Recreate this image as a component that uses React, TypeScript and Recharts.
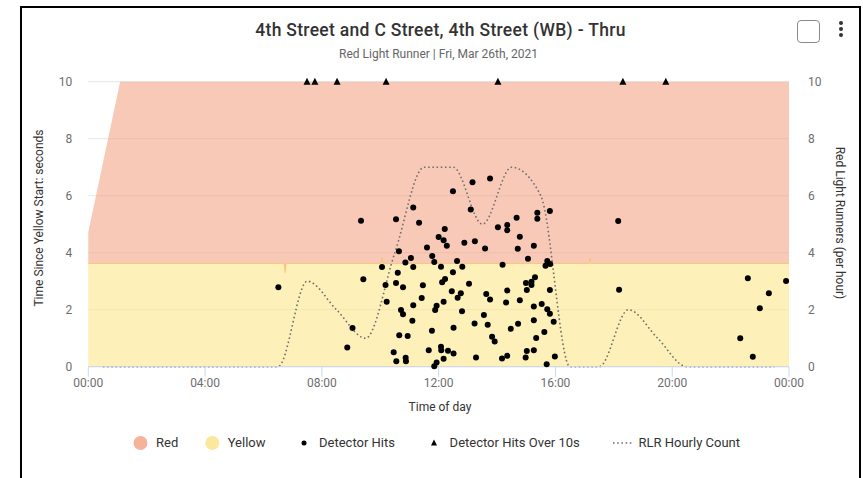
import {
    ComposedChart,
    Area,
    Line,
    Scatter,
    XAxis,
    YAxis,
    CartesianGrid,
} from "recharts";

// band of red / yellow interval (seconds since yellow start)
const bandHours = [0, 1.09, 6.7, 6.74, 6.78, 10.03, 10.05, 10.07, 17.16, 17.18, 17.2, 24];
const yellowTop = [3.62, 3.62, 3.62, 3.3, 3.62, 3.62, 3.82, 3.62, 3.62, 3.8, 3.62, 3.62];
const redTop = [4.73, 10, 10, 10, 10, 10, 10, 10, 10, 10, 10, 10];

// detector hits: [hour of day, seconds since yellow start]
const detectorHits = [
    [6.51, 2.79], [8.87, 0.67], [9.05, 1.36], [9.34, 5.12], [9.42, 3.07], [10.06, 3.5],
    [10.18, 2.87], [10.22, 2.28], [10.46, 0.51], [10.54, 5.17], [10.54, 2.94], [10.55, 0.19],
    [10.6, 3.3], [10.64, 4.05], [10.65, 1.1], [10.71, 1.99], [10.78, 2.79], [10.78, 1.84],
    [10.86, 3.66], [10.87, 0.31], [10.88, 0.19], [10.94, 1.08], [11.05, 3.81], [11.1, 1.61],
    [11.13, 5.59], [11.13, 3.5], [11.13, 2.16], [11.33, 5.05], [11.42, 2.41], [11.46, 2.86],
    [11.6, 4.18], [11.66, 0.58], [11.77, 1.26], [11.78, 3.88], [11.85, 3.67], [11.85, 0.02],
    [11.88, 1.99], [11.93, 2.14], [11.93, 0.15], [12.0, 4.55], [12.08, 3.51], [12.08, 0.7],
    [12.09, 0.58], [12.12, 2.96], [12.17, 4.44], [12.17, 2.28], [12.17, 0.28], [12.21, 4.83],
    [12.22, 3.08], [12.28, 4.24], [12.32, 0.56], [12.45, 2.65], [12.49, 6.16], [12.49, 3.31],
    [12.51, 1.37], [12.51, 0.46], [12.63, 3.71], [12.65, 2.42], [12.76, 2.58], [12.8, 1.95],
    [12.81, 3.51], [12.88, 4.35], [13.04, 2.91], [13.1, 5.52], [13.16, 6.47], [13.23, 1.52],
    [13.24, 4.4], [13.28, 0.32], [13.55, 1.81], [13.59, 4.15], [13.63, 2.55], [13.68, 1.47],
    [13.76, 6.6], [13.76, 2.36], [13.83, 1.05], [13.92, 0.88], [14.03, 4.89], [14.17, 0.29],
    [14.19, 3.58], [14.31, 2.25], [14.35, 4.97], [14.35, 4.79], [14.35, 2.67], [14.35, 0.38],
    [14.47, 1.33], [14.67, 5.23], [14.71, 4.14], [14.72, 1.51], [14.78, 4.56], [14.78, 2.33],
    [14.98, 0.32], [14.99, 2.94], [15.02, 2.69], [15.02, 0.55], [15.06, 3.79], [15.18, 2.98],
    [15.18, 2.87], [15.26, 4.24], [15.26, 2.11], [15.26, 1.63], [15.26, 0.58], [15.3, 3.14],
    [15.34, 1.01], [15.38, 5.4], [15.38, 5.19], [15.53, 2.2], [15.62, 1.22], [15.66, 3.54],
    [15.7, 0.09], [15.72, 3.71], [15.72, 2.02], [15.81, 5.46], [15.81, 2.69], [15.82, 3.6],
    [15.81, 1.86], [15.94, 1.58], [15.98, 0.36], [18.15, 5.11], [18.18, 2.7], [22.33, 1.0],
    [22.59, 3.1], [22.76, 0.35], [23.0, 2.05], [23.31, 2.58], [23.9, 3.01],
];

// hits over 10s are pinned to the top of the axis
const over10Hours = [7.49, 7.76, 8.52, 10.2, 14.03, 18.31, 19.78];

// RLR hourly count, plotted at the middle of each hour
const rlrHours = [
    0.5, 1.5, 2.5, 3.5, 4.5, 5.5, 6.5, 7.5, 8.5, 9.5, 10.5, 11.5,
    12.5, 13.5, 14.5, 15.5, 16.5, 17.5, 18.5, 19.5, 20.5, 21.5, 22.5, 23.5,
];
const rlrCounts = [0, 0, 0, 0, 0, 0, 0, 3, 2, 1, 4, 7, 7, 5, 7, 6, 0, 0, 2, 1, 0, 0, 0, 0];

const xTicks = [0, 4, 8, 12, 16, 20, 24];
const yTicks = [0, 2, 4, 6, 8, 10];

const bandData = bandHours.map((h, i) => ({ h, yellow: yellowTop[i], red: redTop[i] }));
const hitData = detectorHits.map(([h, v]) => ({ h, v }));
const over10Data = over10Hours.map((h) => ({ h, v: 10 }));
const rlrData = rlrHours.map((h, i) => ({ h, v: rlrCounts[i] }));

const fmtHour = (h: number) => String(h % 24).padStart(2, "0") + ":00";

const HitDot = (p: any) => <circle cx={p.cx} cy={p.cy} r={3} fill="#000" />;
const HitTriangle = (p: any) => (
    <path d={`M${p.cx},${p.cy - 4}L${p.cx + 3.5},${p.cy + 3}L${p.cx - 3.5},${p.cy + 3}Z`} fill="#000" />
);

const tickStyle = { fill: "#6e6e6e", fontSize: 12, fontFamily: "Roboto, sans-serif" };
const legendText = { position: "absolute" as const, top: 434, fontSize: 13, color: "#333", lineHeight: "18px" };

export default function App() {
    return (
        <div
            style={{
                position: "absolute",
                left: 0,
                top: 0,
                width: 863,
                height: 478,
                background: "#fff",
                overflow: "hidden",
                fontFamily: "Roboto, sans-serif",
            }}
        >
            <div
                style={{
                    position: "absolute",
                    left: 20,
                    top: 6,
                    width: 841,
                    height: 500,
                    border: "2px solid #000",
                    boxSizing: "border-box",
                }}
            />
            <div
                style={{
                    position: "absolute",
                    left: 0,
                    width: 881,
                    top: 19,
                    height: 22,
                    lineHeight: "22px",
                    textAlign: "center",
                    fontSize: 17.5,
                    fontWeight: 500,
                    letterSpacing: 0.3,
                    color: "#333",
                }}
            >
                4th Street and C Street, 4th Street (WB) - Thru
            </div>
            <div style={{ position: "absolute", left: 0, width: 877, top: 46, height: 16, lineHeight: "16px", textAlign: "center", fontSize: 12, color: "#666" }}>
                Red Light Runner | Fri, Mar 26th, 2021
            </div>
            <div
                style={{
                    position: "absolute",
                    left: 797,
                    top: 20,
                    width: 23,
                    height: 23,
                    border: "1.5px solid #8a8a8a",
                    borderRadius: 4,
                    boxSizing: "border-box",
                }}
            />
            <svg style={{ position: "absolute", left: 835, top: 18 }} width={12} height={22}>
                <circle cx={6} cy={5} r={2} fill="#333" />
                <circle cx={6} cy={11} r={2} fill="#333" />
                <circle cx={6} cy={17} r={2} fill="#333" />
            </svg>

            <div style={{ position: "absolute", left: 0, top: 0 }}>
                <ComposedChart
                    width={863}
                    height={478}
                    data={bandData}
                    margin={{ top: 81.7, right: 14, bottom: 81.3, left: 28.3 }}
                >
                    <CartesianGrid yAxisId="left" horizontal vertical={false} stroke="#e6e6e6" ticks={yTicks} />
                    <XAxis
                        dataKey="h"
                        type="number"
                        domain={[0, 24]}
                        ticks={xTicks}
                        tickFormatter={fmtHour}
                        height={30}
                        stroke="#ccd6eb"
                        tickSize={10}
                        tickMargin={2}
                        tick={tickStyle}
                    />
                    <YAxis
                        yAxisId="left"
                        domain={[0, 10]}
                        ticks={yTicks}
                        width={60}
                        axisLine={false}
                        tickLine={false}
                        tickSize={0}
                        tickMargin={16}
                        tick={tickStyle}
                    />
                    <YAxis
                        yAxisId="right"
                        orientation="right"
                        domain={[0, 10]}
                        ticks={yTicks}
                        width={60}
                        axisLine={false}
                        tickLine={false}
                        tickSize={0}
                        tickMargin={19}
                        tick={{ ...tickStyle, textAnchor: "start" }}
                    />
                    <Area
                        yAxisId="left"
                        type="linear"
                        dataKey="yellow"
                        fill="#fce689"
                        fillOpacity={0.6}
                        stroke="#f9d878"
                        strokeWidth={1}
                        isAnimationActive={false}
                    />
                    <Area
                        yAxisId="left"
                        type="linear"
                        dataKey={(d: any) => [d.yellow, d.red]}
                        fill="#f5a588"
                        fillOpacity={0.6}
                        stroke="none"
                        isAnimationActive={false}
                    />
                    <Line
                        yAxisId="right"
                        data={rlrData}
                        dataKey="v"
                        type="monotone"
                        stroke="#707070"
                        strokeWidth={1.6}
                        strokeDasharray="1.6 2.6"
                        dot={false}
                        isAnimationActive={false}
                    />
                    <Scatter yAxisId="left" data={hitData} dataKey="v" shape={HitDot} isAnimationActive={false} />
                    <Scatter yAxisId="left" data={over10Data} dataKey="v" shape={HitTriangle} isAnimationActive={false} />
                </ComposedChart>
            </div>

            <div
                style={{
                    position: "absolute",
                    left: 38.5,
                    top: 218,
                    transform: "translate(-50%, -50%) rotate(-90deg)",
                    whiteSpace: "nowrap",
                    fontSize: 12,
                    color: "#333",
                }}
            >
                Time Since Yellow Start: seconds
            </div>
            <div
                style={{
                    position: "absolute",
                    left: 839.5,
                    top: 222.5,
                    transform: "translate(-50%, -50%) rotate(90deg)",
                    whiteSpace: "nowrap",
                    fontSize: 12,
                    color: "#333",
                }}
            >
                Red Light Runners (per hour)
            </div>
            <div
                style={{
                    position: "absolute",
                    left: 440,
                    top: 407,
                    transform: "translate(-50%, -50%)",
                    whiteSpace: "nowrap",
                    fontSize: 12,
                    color: "#333",
                }}
            >
                Time of day
            </div>

            <svg style={{ position: "absolute", left: 0, top: 430 }} width={863} height={26}>
                <circle cx={140.5} cy={13} r={7} fill="#f6b39c" />
                <circle cx={212.3} cy={13} r={7} fill="#fce79c" />
                <circle cx={304} cy={13} r={2.5} fill="#000" />
                <path d="M434,9.5L437,15.5L431,15.5Z" fill="#000" />
                <line x1={613} y1={13} x2={633} y2={13} stroke="#707070" strokeWidth={1.6} strokeDasharray="1.6 2.6" />
            </svg>
            <div style={{ ...legendText, left: 156 }}>Red</div>
            <div style={{ ...legendText, left: 227.7 }}>Yellow</div>
            <div style={{ ...legendText, left: 319 }}>Detector Hits</div>
            <div style={{ ...legendText, left: 449.6 }}>Detector Hits Over 10s</div>
            <div style={{ ...legendText, left: 638.5 }}>RLR Hourly Count</div>
        </div>
    );
}
